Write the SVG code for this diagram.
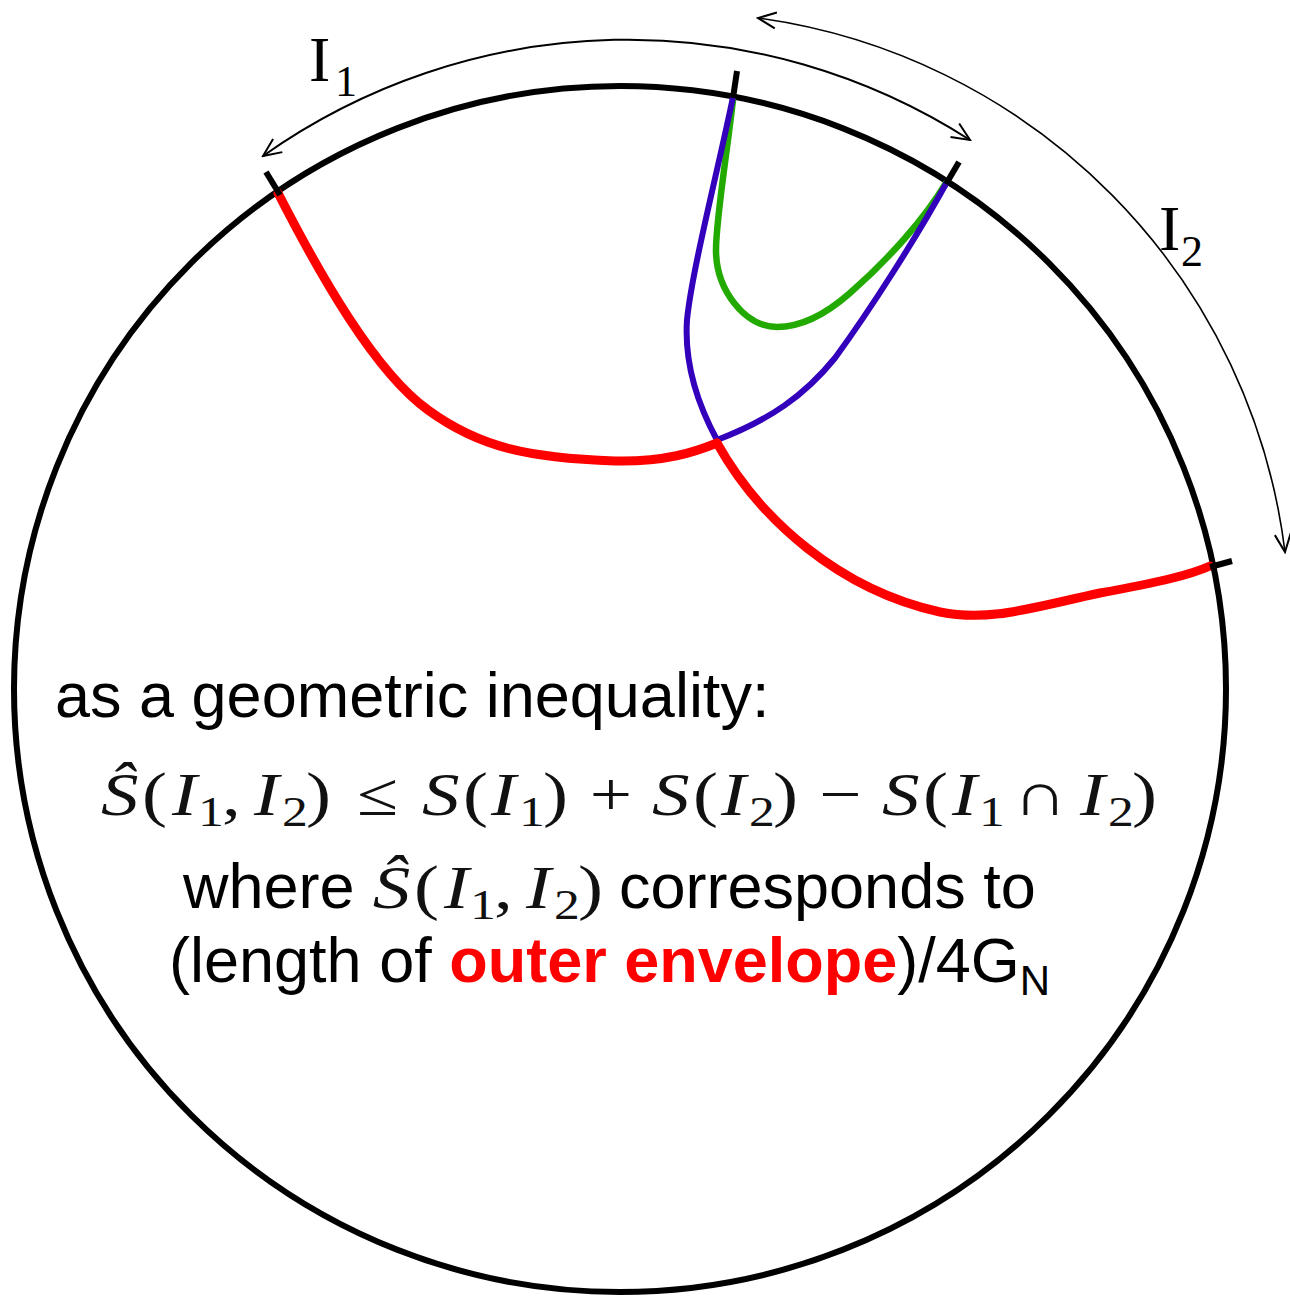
<svg xmlns="http://www.w3.org/2000/svg" width="1290" height="1297" viewBox="0 0 1290 1297">
<style>
.bnd{fill:none;stroke:#000;stroke-width:6}
.tick{stroke:#000;stroke-width:6;fill:none}
.red{fill:none;stroke:#ff0000;stroke-width:9;stroke-linecap:round;stroke-linejoin:round}
.blue{fill:none;stroke:#3300bb;stroke-width:6;stroke-linecap:round}
.green{fill:none;stroke:#22aa00;stroke-width:6.5;stroke-linecap:round}
.arc{fill:none;stroke:#000;marker-start:url(#ah);marker-end:url(#ah)}
.lbl{font-family:"Liberation Serif",serif;fill:#000}
.sans{font-family:"Liberation Sans",Arial,sans-serif;font-size:63px;fill:#000}
.m{font-family:"Liberation Serif",serif;font-size:61px;fill:#111}
.mi{font-style:italic}
.sub{font-size:42px}
</style>
<defs>
<marker id="ah" viewBox="-22 -12 24 24" refX="0" refY="0" markerWidth="24" markerHeight="24" orient="auto-start-reverse" markerUnits="userSpaceOnUse">
<path d="M-18,-8 L0,0 L-18,8" fill="none" stroke="#000" stroke-width="2"/>
</marker>
</defs>
<rect width="1290" height="1297" fill="#fff"/>
<g id="boundary">
<ellipse class="bnd" cx="620" cy="689" rx="606" ry="603"/>
</g>
<g id="geodesics">
<path id="green-geodesic" class="green" d="M733,100 C726,160 716,220 716,250 C716,290 745,327 777,327 C800,327 825,315 850,293 C890,258 925,218 946,183"/>
<path id="blue-geodesic" class="blue" d="M733,97 C718,170 692,270 687,320 C684,365 698,405 717,440 C770,420 805,395 835,358 C870,310 915,240 947,182"/>
<path id="red-envelope-1" class="red" d="M278,193 C320,275 375,372 428,410 C480,448 530,458 615,461 C665,462 695,452 717,443"/>
<path id="red-envelope-2" class="red" d="M717,443 C760,520 840,590 940,612 C990,622 1030,608 1100,593 C1160,582 1190,575 1210,566"/>
</g>
<g id="endpoints">
<line class="tick" x1="266" y1="172" x2="280" y2="195"/>
<line class="tick" x1="737" y1="71" x2="733" y2="98"/>
<line class="tick" x1="959" y1="162" x2="946" y2="184"/>
<line class="tick" x1="1210" y1="567" x2="1232" y2="561"/>
</g>
<g id="connectors">
<path id="arc-I1" class="arc" stroke-width="2" d="M263,156 A632,632 0 0 1 970,140"/>
<path id="arc-I2" class="arc" stroke-width="1.6" d="M758,18 A615,615 0 0 1 1285,552"/>
</g>
<g id="label-I1" class="lbl">
<text x="309" y="81" font-size="64">I</text>
<text x="335" y="96" font-size="44">1</text>
</g>
<g id="label-I2" class="lbl">
<text x="1159" y="250" font-size="64">I</text>
<text x="1181" y="266" font-size="44">2</text>
</g>
<g id="text">
<text class="sans" x="55" y="717">as a geometric inequality:</text>
<g id="inequality" transform="scale(1.23,1)" class="m">
<text class="mi" x="82.1" y="815">Ŝ</text>
<text x="115.4" y="815">(</text>
<text class="mi" x="139.8" y="815">I</text>
<text class="sub" x="161" y="826">1</text>
<text x="180.5" y="815">,</text>
<text class="mi" x="206.5" y="815">I</text>
<text class="sub" x="229.3" y="826">2</text>
<text x="248.8" y="815">)</text>
<text x="306.9" y="815" text-anchor="middle">≤</text>
<text class="mi" x="343.1" y="815">S</text>
<text x="376.4" y="815">(</text>
<text class="mi" x="399.2" y="815">I</text>
<text class="sub" x="422" y="826">1</text>
<text x="441.5" y="815">)</text>
<text x="496.7" y="815" text-anchor="middle">+</text>
<text class="mi" x="530.1" y="815">S</text>
<text x="563.4" y="815">(</text>
<text class="mi" x="586.2" y="815">I</text>
<text class="sub" x="609" y="826">2</text>
<text x="628.5" y="815">)</text>
<text x="683.3" y="815" text-anchor="middle">−</text>
<text class="mi" x="717.1" y="815">S</text>
<text x="750.4" y="815">(</text>
<text class="mi" x="774" y="815">I</text>
<text class="sub" x="796" y="826">1</text>
<text x="846" y="815" text-anchor="middle">∩</text>
<text class="mi" x="878" y="815">I</text>
<text class="sub" x="900.8" y="826">2</text>
<text x="920.3" y="815">)</text>
</g>
<text class="sans" x="183" y="908">where</text>
<g id="inline-math" transform="scale(1.23,1)" class="m">
<text class="mi" x="303" y="908">Ŝ</text>
<text x="336.5" y="908">(</text>
<text class="mi" x="361" y="908">I</text>
<text class="sub" x="382.2" y="919">1</text>
<text x="401.7" y="908">,</text>
<text class="mi" x="427.7" y="908">I</text>
<text class="sub" x="450.5" y="919">2</text>
<text x="470" y="908">)</text>
</g>
<text class="sans" x="619" y="908">corresponds to</text>
<text class="sans" x="169" y="982">(length of <tspan fill="#ff0000" font-weight="bold">outer envelope</tspan>)/4G<tspan font-size="42" dy="13">N</tspan></text>
</g>
</svg>
